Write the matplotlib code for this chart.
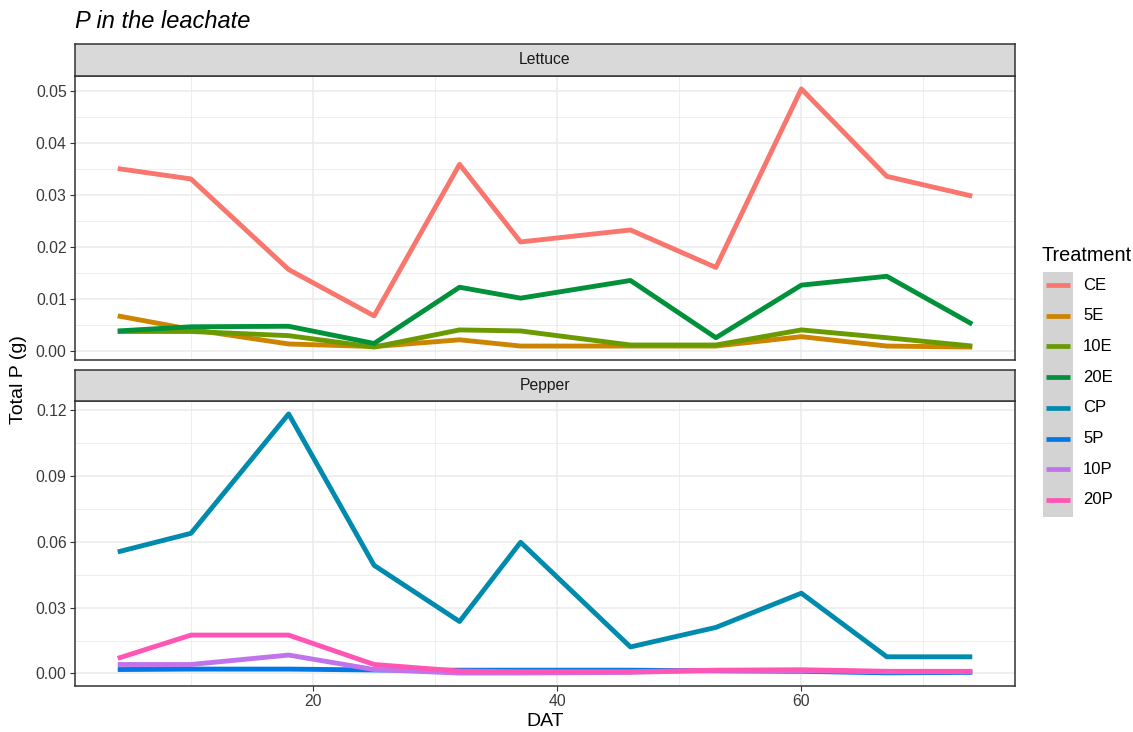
import matplotlib
matplotlib.use('Agg')
import matplotlib.pyplot as plt
from matplotlib.patches import Rectangle
from matplotlib.lines import Line2D
from matplotlib.ticker import MultipleLocator

plt.rcParams['font.family'] = ['Liberation Sans', 'DejaVu Sans']

# days after transplant
dat = [4, 10, 18, 25, 32, 37, 46, 53, 60, 67, 74]

# lettuce treatments
ce = [0.0351, 0.0331, 0.0157, 0.0068, 0.0359, 0.0210, 0.0233, 0.0161, 0.0504, 0.0336, 0.0298]
e5 = [0.0068, 0.0042, 0.0014, 0.0009, 0.0022, 0.0010, 0.0010, 0.0010, 0.0028, 0.0010, 0.0008]
e10 = [0.0038, 0.0038, 0.0030, 0.0008, 0.0041, 0.0039, 0.0012, 0.0012, 0.0041, 0.0026, 0.0010]
e20 = [0.0039, 0.0047, 0.0048, 0.0015, 0.0123, 0.0102, 0.0136, 0.0026, 0.0127, 0.0144, 0.0052]

# pepper treatments
cp = [0.0554, 0.0639, 0.1183, 0.0493, 0.0237, 0.0598, 0.0121, 0.0210, 0.0366, 0.0076, 0.0076]
p5 = [0.0018, 0.0020, 0.0020, 0.0016, 0.0015, 0.0015, 0.0015, 0.0012, 0.0010, 0.0003, 0.0005]
p10 = [0.0041, 0.0041, 0.0084, 0.0018, 0.0002, 0.0002, 0.0005, 0.0014, 0.0013, 0.0008, 0.0008]
p20 = [0.0069, 0.0175, 0.0175, 0.0041, 0.0011, 0.0008, 0.0008, 0.0015, 0.0017, 0.0010, 0.0010]

treatments = ['CE', '5E', '10E', '20E', 'CP', '5P', '10P', '20P']
colors = ['#F8766D', '#CD8400', '#6A9A00', '#00913A', '#008AAE', '#0079E6', '#C173EB', '#FF55B4']

lettuce = {'CE': ce, '5E': e5, '10E': e10, '20E': e20}
pepper = {'CP': cp, '5P': p5, '10P': p10, '20P': p20}
col = dict(zip(treatments, colors))

W, H = 1133, 732
fig = plt.figure(figsize=(W / 100, H / 100), dpi=100)


def box(x0, y0, x1, y1):
    return [x0 / W, 1 - y1 / H, (x1 - x0) / W, (y1 - y0) / H]


def panel(rect, strip_rect, name, data, major, minor, show_x):
    ax = fig.add_axes(rect)
    for k, v in data.items():
        ax.plot(dat, v, color=col[k], lw=3.5, solid_capstyle='butt', zorder=3)
    ax.set_xlim(0.5, 77.5)
    vals = [x for v in data.values() for x in v]
    lo, hi = min(vals), max(vals)
    pad = (hi - lo) * 0.05
    ax.set_ylim(lo - pad, hi + pad)
    ax.xaxis.set_major_locator(MultipleLocator(20))
    ax.xaxis.set_minor_locator(MultipleLocator(10))
    ax.yaxis.set_major_locator(MultipleLocator(major))
    ax.yaxis.set_minor_locator(MultipleLocator(minor))
    ax.yaxis.set_major_formatter(plt.FormatStrFormatter('%.2f'))
    ax.grid(which='major', color='#EBEBEB', lw=1.1, zorder=0)
    ax.grid(which='minor', color='#EBEBEB', lw=0.6, zorder=0)
    ax.set_axisbelow(True)
    ax.tick_params(which='minor', length=0)
    ax.tick_params(which='major', length=3.5, width=0.8, color='#333333',
                   labelsize=11.3, labelcolor='#3A3A3A', pad=2.5)
    if not show_x:
        ax.tick_params(axis='x', length=0, labelbottom=False)
    for s in ax.spines.values():
        s.set_color('#333333')
        s.set_linewidth(1.1)

    sx = fig.add_axes(strip_rect)
    sx.set_facecolor('#D9D9D9')
    sx.set_xticks([])
    sx.set_yticks([])
    for s in sx.spines.values():
        s.set_color('#333333')
        s.set_linewidth(1.1)
    sx.text(0.5, 0.5, name, ha='center', va='center', fontsize=11.3, color='#1A1A1A',
            transform=sx.transAxes)
    return ax


panel(box(75, 76, 1015, 360), box(75, 44, 1015, 76), 'Lettuce', lettuce, 0.01, 0.005, False)
panel(box(75, 401, 1015, 686), box(75, 370, 1015, 401), 'Pepper', pepper, 0.03, 0.015, True)

fig.text(75 / W, 1 - 22 / H, 'P in the leachate', fontsize=17, style='italic',
         ha='left', va='center')
fig.text(545 / W, 1 - 721 / H, 'DAT', fontsize=14, ha='center', va='center')
fig.text(19 / W, 1 - 380 / H, 'Total P (g)', fontsize=14, rotation=90,
         ha='center', va='center')

# legend
fig.text(1042 / W, 1 - 256 / H, 'Treatment', fontsize=14.3, ha='left', va='center')
lax = fig.add_axes([0, 0, 1, 1])
lax.set_xlim(0, W)
lax.set_ylim(H, 0)
lax.axis('off')
lax.add_patch(Rectangle((1043, 272), 30, 245, facecolor='#D3D3D3', edgecolor='none'))
for i, t in enumerate(treatments):
    y = 285 + i * 30.7
    lax.add_line(Line2D([1046, 1070], [y, y], color=col[t], lw=3.4, solid_capstyle='butt'))
    lax.text(1083, y, t, fontsize=12, ha='left', va='center')

fig.savefig('out.png', dpi=100)
